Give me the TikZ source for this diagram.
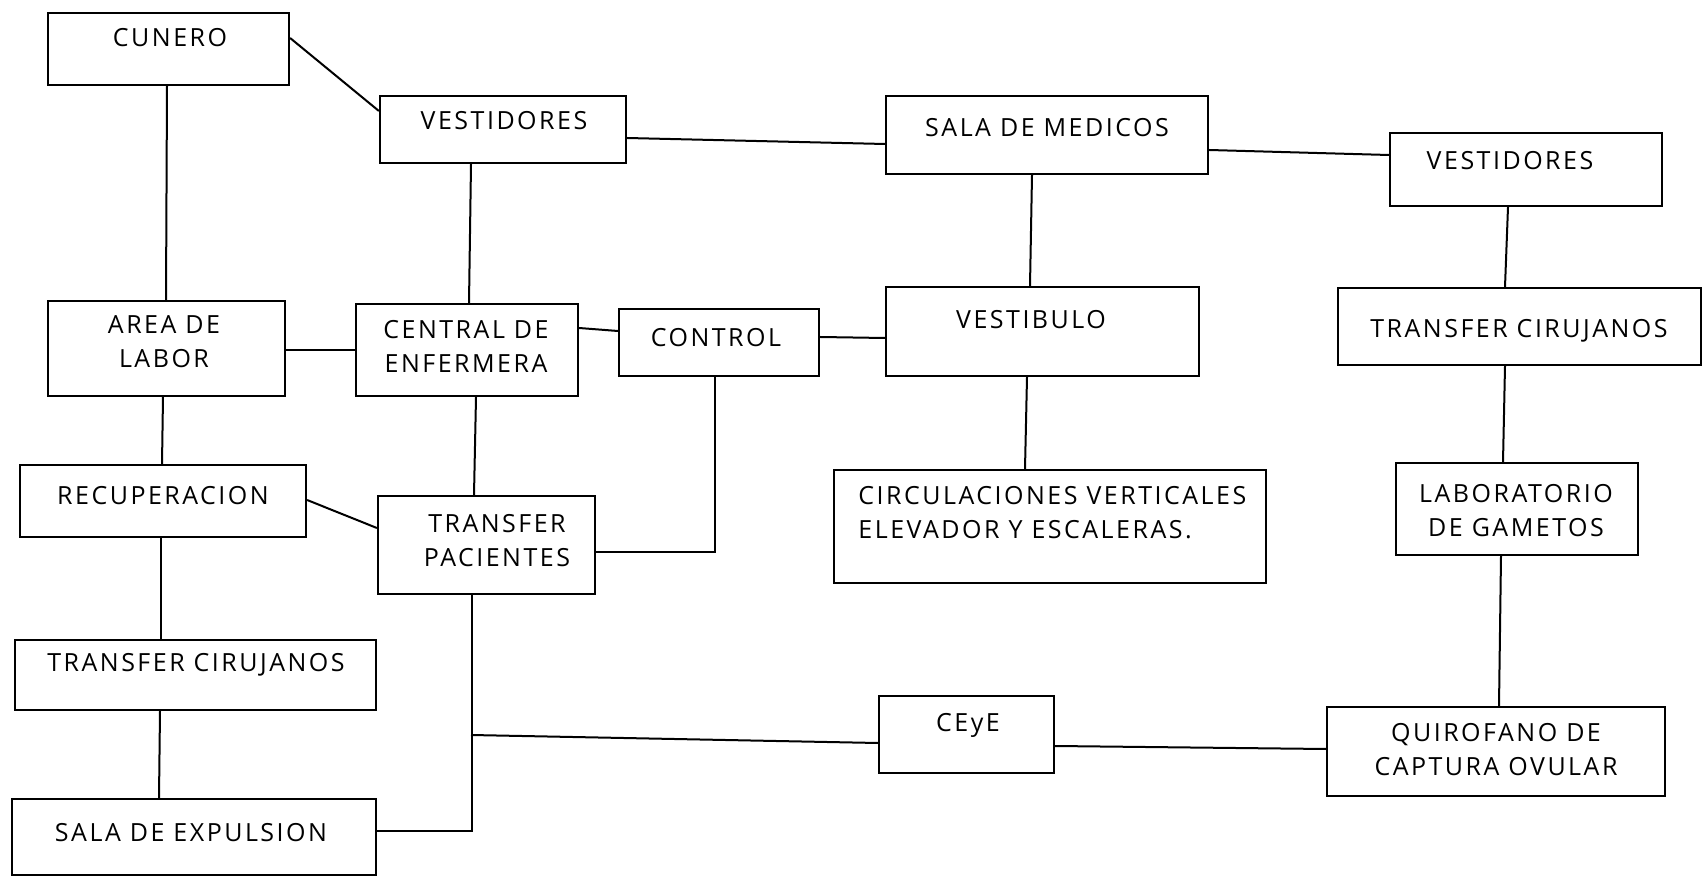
\documentclass[tikz,border=0pt]{standalone}
\usepackage{fontspec}
\setmainfont{Open Sans}[LetterSpace=10]
\usetikzlibrary{fit,calc}
\begin{document}
\begin{tikzpicture}[x=0.5pt,y=-0.5pt,
  room/.style={draw,line width=1.1pt,inner sep=0pt},
  lbl/.style={font=\fontsize{12.5}{17}\selectfont,align=center,inner sep=0pt},
  link/.style={line width=1pt}]
\useasboundingbox (0,0) rectangle (1703,876);
% boxes
\node[room,fit={(48,13)(289,85)}] (cunero) {};
\node[room,fit={(380,96)(626,163)}] (vest1) {};
\node[room,fit={(886,96)(1208,174)}] (sala) {};
\node[room,fit={(1390,133)(1662,206)}] (vest2) {};
\node[room,fit={(48,301)(285,396)}] (area) {};
\node[room,fit={(356,304)(578,396)}] (central) {};
\node[room,fit={(619,309)(819,376)}] (control) {};
\node[room,fit={(886,287)(1199,376)}] (vestibulo) {};
\node[room,fit={(1338,288)(1701,365)}] (trcirR) {};
\node[room,fit={(20,465)(306,537)}] (recup) {};
\node[room,fit={(378,496)(595,594)}] (trpac) {};
\node[room,fit={(834,470)(1266,583)}] (circ) {};
\node[room,fit={(1396,463)(1638,555)}] (lab) {};
\node[room,fit={(15,640)(376,710)}] (trcirL) {};
\node[room,fit={(879,696)(1054,773)}] (ceye) {};
\node[room,fit={(1327,707)(1665,796)}] (quir) {};
\node[room,fit={(12,799)(376,875)}] (salaexp) {};
% labels
\node[lbl] (tcunero) at (170,38) {CUNERO};
\node[lbl] (tvest1) at (504,121) {VESTIDORES};
\node[lbl] (tsala) at (1047,128) {SALA DE MEDICOS};
\node[lbl] (tvest2) at (1510,161) {VESTIDORES};
\node[lbl] (tarea) at (164,342) {AREA DE\\LABOR};
\node[lbl] (tcentral) at (466,346) {CENTRAL DE\\ENFERMERA};
\node[lbl] (tcontrol) at (716,338) {CONTROL};
\node[lbl] (tvestibulo) at (1031,320) {VESTIBULO};
\node[lbl] (ttrcirR) at (1519,331) {TRANSFER CIRUJANOS};
\node[lbl] (trecup) at (163,496) {RECUPERACION};
\node[lbl] (ttrpac) at (497,541) {TRANSFER\\PACIENTES};
\node[lbl,align=left,anchor=west] (tcirc) at (858,513) {CIRCULACIONES VERTICALES\\ELEVADOR Y ESCALERAS.};
\node[lbl] (tlab) at (1516,511) {LABORATORIO\\DE GAMETOS};
\node[lbl] (ttrcirL) at (196,665) {TRANSFER CIRUJANOS};
\node[lbl] (tceye) at (968,725) {CEyE};
\node[lbl] (tquir) at (1496,750) {QUIROFANO DE\\CAPTURA OVULAR};
\node[lbl] (tsalaexp) at (191,833) {SALA DE EXPULSION};
% connectors
\draw[link] (cunero.east |- 0,38) -- (vest1.west |- 0,111);
\draw[link] (cunero.south -| 167,0) -- (area.north -| 166,0);
\draw[link] (vest1.east |- 0,138) -- (sala.west |- 0,144);
\draw[link] (sala.east |- 0,150) -- (vest2.west |- 0,155);
\draw[link] (vest1.south -| 471,0) -- (central.north -| 469,0);
\draw[link] (sala.south -| 1032,0) -- (vestibulo.north -| 1030,0);
\draw[link] (vest2.south -| 1508,0) -- (trcirR.north -| 1505,0);
\draw[link] (area.east |- 0,350) -- (central.west |- 0,350);
\draw[link] (central.east |- 0,328) -- (control.west |- 0,331);
\draw[link] (control.east |- 0,337) -- (vestibulo.west |- 0,338);
\draw[link] (vestibulo.south -| 1027,0) -- (circ.north -| 1025,0);
\draw[link] (trcirR.south -| 1505,0) -- (lab.north -| 1503,0);
\draw[link] (lab.south -| 1501,0) -- (quir.north -| 1499,0);
\draw[link] (area.south -| 163,0) -- (recup.north -| 162,0);
\draw[link] (central.south -| 476,0) -- (trpac.north -| 474,0);
\draw[link] (control.south -| 715,0) |- (trpac.east |- 0,552);
\draw[link] (recup.east |- 0,500) -- (trpac.west |- 0,528);
\draw[link] (recup.south -| 161,0) -- (trcirL.north -| 161,0);
\draw[link] (trcirL.south -| 160,0) -- (salaexp.north -| 159,0);
\draw[link] (trpac.south -| 472,0) |- (salaexp.east |- 0,831);
\coordinate (junc) at (471,735);
\draw[link] (junc) -- (ceye.west |- 0,743);
\draw[link] (ceye.east |- 0,746) -- (quir.west |- 0,749);
\end{tikzpicture}
\end{document}
